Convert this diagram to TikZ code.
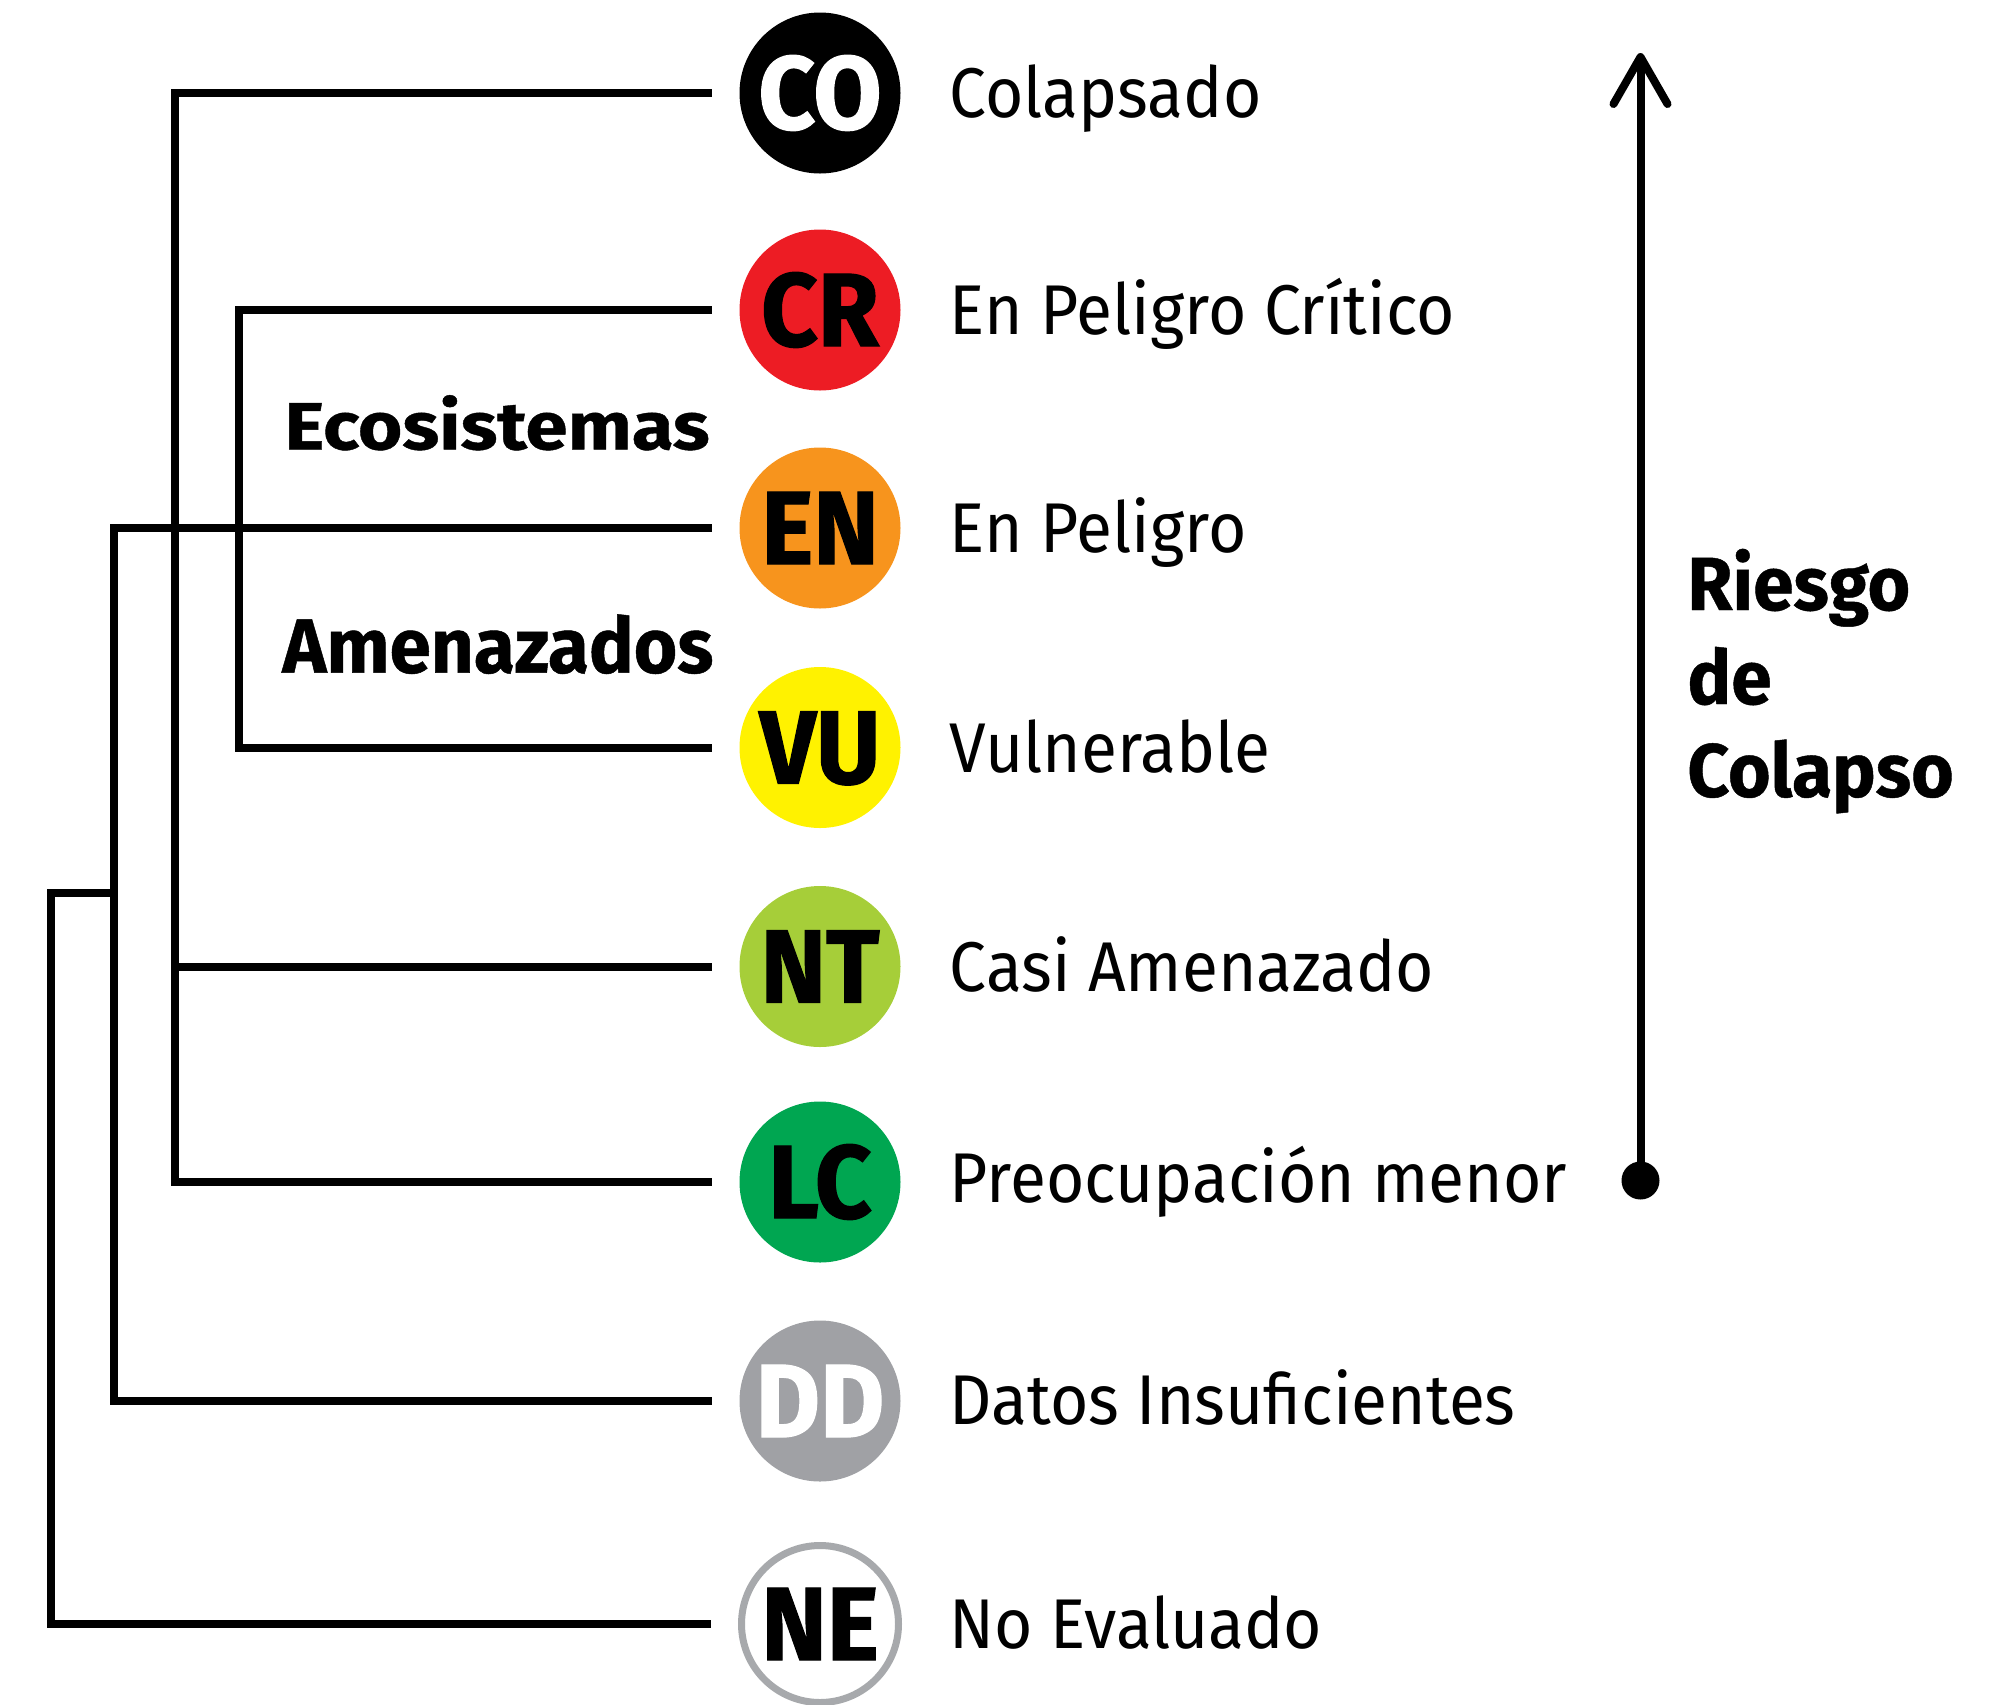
\documentclass[tikz,border=0pt]{standalone}
\usepackage{fontspec}
\setmainfont{Fira Sans}
\newfontfamily\lblfont{Fira Sans}[FakeStretch=0.935]
\newfontfamily\bdgfont{Fira Sans}[FakeStretch=0.95, BoldFeatures={FakeBold=1.2}]
\newfontfamily\hdfont{Fira Sans}[FakeStretch=0.97, BoldFeatures={FakeBold=0.6}]
\newfontfamily\ecofont{Fira Sans}[FakeStretch=1.14, BoldFeatures={FakeBold=0.6}]
\definecolor{cCR}{HTML}{ED1C24}
\definecolor{cEN}{HTML}{F7941D}
\definecolor{cVU}{HTML}{FFF200}
\definecolor{cNT}{HTML}{A6CE39}
\definecolor{cLC}{HTML}{00A651}
\definecolor{cDD}{HTML}{A0A1A5}
\definecolor{cNE}{HTML}{A7A9AC}
\tikzset{
  badge/.style={circle, minimum size=80.5pt, inner sep=0pt, text height=36pt, text depth=0pt,
    font=\bdgfont\bfseries\fontsize{52}{52}\selectfont},
  lbl/.style={anchor=base west, inner sep=0pt, font=\lblfont\fontsize{35.2}{40}\selectfont},
  hd/.style={anchor=base west, inner sep=0pt},
  br/.style={line width=4pt},
}
\begin{document}
\begin{tikzpicture}[x=0.5pt, y=-0.5pt]
\useasboundingbox (0,0) rectangle (2009,1704);
% badges
\node[badge, fill=black, text=white] (co) at (820,93) {CO};
\node[badge, fill=cCR] (cr) at (820,310) {CR};
\node[badge, fill=cEN] (en) at (820,528) {EN};
\node[badge, fill=cVU] (vu) at (820,747.5) {VU};
\node[badge, fill=cNT] (nt) at (820,966.5) {NT};
\node[badge, fill=cLC] (lc) at (820,1182) {LC};
\node[badge, fill=cDD, text=white] (dd) at (820,1401) {DD};
\node[badge, fill=white, draw=cNE, line width=3.5pt, minimum size=78.5pt] (ne) at (820,1624) {NE};
% labels
\node[lbl] (lco) at (949.5,117.5) {Colapsado};
\node[lbl] (lcr) at (949.5,334.5) {En Peligro Crítico};
\node[lbl] (len) at (949.5,552.5) {En Peligro};
\node[lbl] (lvu) at (949.5,772) {Vulnerable};
\node[lbl] (lnt) at (949.5,991) {Casi Amenazado};
\node[lbl] (llc) at (949.5,1202) {Preocupación menor};
\node[lbl] (ldd) at (949.5,1424) {Datos Insuficientes};
\node[lbl] (lne) at (949.5,1648) {No Evaluado};
% group labels
\node[hd, font=\ecofont\bfseries\fontsize{33.4}{40}\selectfont] (eco) at (284,449.3) {Ecosistemas};
\node[hd, font=\hdfont\bfseries\fontsize{38.5}{44}\selectfont] (ame) at (282,672.7) {Amenazados};
\node[hd, font=\hdfont\bfseries\fontsize{37.7}{44}\selectfont] (r1) at (1687,610) {Riesgo};
\node[hd, font=\hdfont\bfseries\fontsize{37.7}{44}\selectfont] (r2) at (1687,704) {de};
\node[hd, font=\hdfont\bfseries\fontsize{37.7}{44}\selectfont] (r3) at (1687,796.7) {Colapso};
% bracket coordinates
\coordinate (b1) at (175,0);
\coordinate (b2) at (239,0);
\coordinate (b3) at (114,0);
\coordinate (b4) at (51,0);
\coordinate (j) at (114,893);
% brackets
\draw[br] ([xshift=-13.75pt]co.west) -- (b1 |- co.west) -- (b1 |- lc.west) -- ([xshift=-13.75pt]lc.west);
\draw[br] (b1 |- nt.west) -- ([xshift=-13.75pt]nt.west);
\draw[br] ([xshift=-13.75pt]cr.west) -- (b2 |- cr.west) -- (b2 |- vu.west) -- ([xshift=-13.75pt]vu.west);
\draw[br] ([xshift=-13.75pt]en.west) -- (b3 |- en.west) -- (b3 |- dd.west) -- ([xshift=-13.75pt]dd.west);
\draw[br] (j) -- (b4 |- j) -- (b4 |- ne.west) -- ([xshift=-13.75pt]ne.west);
% risk arrow
\node[circle, fill=black, minimum size=19pt, inner sep=0pt] (dot) at (1640.5,1180.5) {};
\coordinate (tip) at (1640.5,57);
\coordinate (bl) at (1613.5,104);
\coordinate (brr) at (1667.5,104);
\draw[line width=4pt] (dot.center) -- (tip);
\draw[line width=4pt, line cap=round, line join=round] (bl) -- (tip) -- (brr);
\end{tikzpicture}
\end{document}
